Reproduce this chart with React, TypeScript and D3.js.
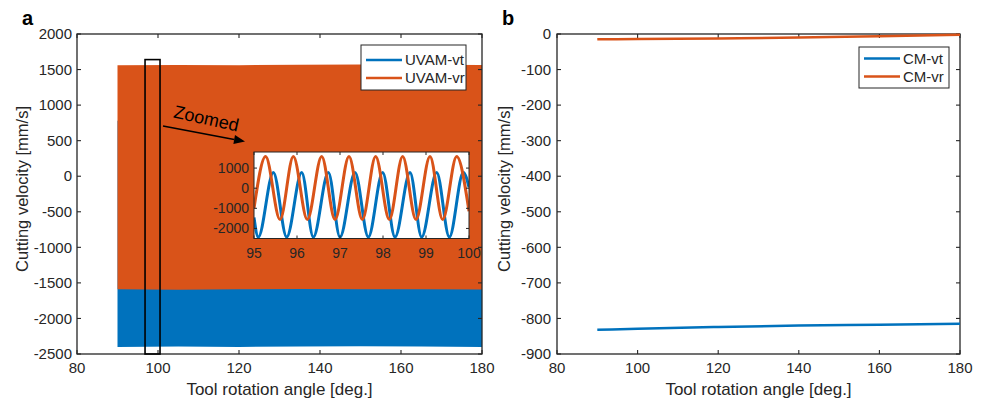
import React from "react";
import * as d3 from "d3";

// ---------- data ----------
// Panel a: envelope of dense oscillation (UVAM)
const mainAngles = [90, 105, 120, 135, 150, 165, 180];
const uvamVrUpper = [1560, 1565, 1562, 1566, 1570, 1566, 1565];
const uvamVrLower = [-1590, -1595, -1590, -1586, -1590, -1590, -1592];
const uvamVtUpper = [780, 782, 780, 784, 782, 780, 780];
const uvamVtLower = [-2400, -2396, -2400, -2394, -2392, -2396, -2400];

// Zoom rectangle (angle range, velocity range)
const zoomRectAngles = [96.8, 100.5];
const zoomRectValues = [1640, -2500];

// Inset: extrema (95 to 100 deg)
const insetVrAngles = [95, 95.27, 95.605, 95.915, 96.24, 96.574, 96.884, 97.209, 97.52, 97.829, 98.147, 98.457, 98.767, 99.093, 99.388, 99.713, 100];
const insetVrValues = [-1000, 1580, -1560, 1580, -1560, 1580, -1560, 1580, -1560, 1580, -1560, 1580, -1560, 1580, -1560, 1580, -1150];
const insetVtAngles = [95, 95.1, 95.45, 95.76, 96.109, 96.38, 96.729, 97.0, 97.349, 97.659, 97.992, 98.279, 98.628, 98.899, 99.248, 99.543, 99.868, 100];
const insetVtValues = [-1450, -2430, 780, -2430, 780, -2430, 780, -2430, 780, -2430, 780, -2430, 780, -2430, 780, -2430, 780, 50];

// Panel b: conventional machining
const cmAngles = [90, 100, 120, 140, 160, 180];
const cmVt = [-832, -829, -824, -820, -817.5, -815];
const cmVr = [-15, -14, -12.5, -10, -6, -2];

// Ticks
const xTicks = [80, 100, 120, 140, 160, 180];
const yTicksA = [2000, 1500, 1000, 500, 0, -500, -1000, -1500, -2000, -2500];
const yTicksB = [0, -100, -200, -300, -400, -500, -600, -700, -800, -900];
const insetXTicks = [95, 96, 97, 98, 99, 100];
const insetYTicks = [1000, 0, -1000, -2000];

const legendA = ["UVAM-vt", "UVAM-vr"];
const legendB = ["CM-vt", "CM-vr"];

const BLUE = "#0072BD";
const ORANGE = "#D95319";
const AX = "#262626";
const FONT = "'Liberation Sans', Arial, sans-serif";

type AxesProps = {
  x: d3.ScaleLinear<number, number>;
  y: d3.ScaleLinear<number, number>;
  yTicks: number[];
  xTickVals: number[];
  tickFont: number;
  tickLen: number;
  xLabelDy: number;
  yLabelDx: number;
};

function Axes({ x, y, yTicks, xTickVals, tickFont, tickLen, xLabelDy, yLabelDx }: AxesProps) {
  const [x0, x1] = x.range();
  const [y0, y1] = y.range(); // y0 bottom, y1 top
  return (
    <g>
      <rect x={x0} y={y1} width={x1 - x0} height={y0 - y1} fill="none" stroke={AX} strokeWidth={1.3} />
      {xTickVals.map((t) => (
        <g key={"x" + t}>
          <line x1={x(t)} x2={x(t)} y1={y0} y2={y0 - tickLen} stroke={AX} strokeWidth={1.1} />
          <line x1={x(t)} x2={x(t)} y1={y1} y2={y1 + tickLen} stroke={AX} strokeWidth={1.1} />
          <text x={x(t)} y={y0 + xLabelDy} fontSize={tickFont} textAnchor="middle" fill={AX} fontFamily={FONT}>
            {t}
          </text>
        </g>
      ))}
      {yTicks.map((t) => (
        <g key={"y" + t}>
          <line x1={x0} x2={x0 + tickLen} y1={y(t)} y2={y(t)} stroke={AX} strokeWidth={1.1} />
          <line x1={x1} x2={x1 - tickLen} y1={y(t)} y2={y(t)} stroke={AX} strokeWidth={1.1} />
          <text x={x0 - yLabelDx} y={y(t)} dy="0.35em" fontSize={tickFont} textAnchor="end" fill={AX} fontFamily={FONT}>
            {t}
          </text>
        </g>
      ))}
    </g>
  );
}

function Legend({ x, y, w, h, labels, rowY }: { x: number; y: number; w: number; h: number; labels: string[]; rowY: number[] }) {
  const colors = [BLUE, ORANGE];
  return (
    <g>
      <rect x={x} y={y} width={w} height={h} fill="white" stroke={AX} strokeWidth={1} />
      {labels.map((l, i) => (
        <g key={l}>
          <line x1={x + 5} x2={x + 41} y1={rowY[i]} y2={rowY[i]} stroke={colors[i]} strokeWidth={2.5} />
          <text x={x + 44} y={rowY[i]} dy="0.36em" fontSize={15} fill={AX} fontFamily={FONT}>
            {l}
          </text>
        </g>
      ))}
    </g>
  );
}

export default function App() {
  // Panel a scales
  const xA = d3.scaleLinear().domain([80, 180]).range([77, 482]);
  const yA = d3.scaleLinear().domain([-2500, 2000]).range([354, 34]);
  // Panel b scales
  const xB = d3.scaleLinear().domain([80, 180]).range([557, 960]);
  const yB = d3.scaleLinear().domain([-900, 0]).range([354, 34]);
  // Inset scales
  const xI = d3.scaleLinear().domain([95, 100]).range([254, 469]);
  const yI = d3.scaleLinear().domain([-2500, 1800]).range([238.5, 152]);

  const bandA = (upper: number[], lower: number[]) =>
    d3
      .area<number>()
      .x((_, i) => xA(mainAngles[i]))
      .y0((_, i) => yA(lower[i]))
      .y1((_, i) => yA(upper[i]))(mainAngles) as string;

  const lineI = (angles: number[], vals: number[]) =>
    d3
      .line<number>()
      .x((_, i) => xI(angles[i]))
      .y((_, i) => yI(vals[i]))
      .curve(d3.curveMonotoneX)(angles) as string;

  const lineB = (vals: number[]) =>
    d3
      .line<number>()
      .x((_, i) => xB(cmAngles[i]))
      .y((_, i) => yB(vals[i]))
      .curve(d3.curveMonotoneX)(cmAngles) as string;

  const ax0 = 163, ay0 = 126, ax1 = 245, ay1 = 141.5;
  const ang = Math.atan2(ay1 - ay0, ax1 - ax0);
  const hl = 11, hw = 4.5;
  const bx = ax1 - hl * Math.cos(ang), by = ay1 - hl * Math.sin(ang);
  const head = `M${ax1},${ay1} L${bx - hw * Math.sin(ang)},${by + hw * Math.cos(ang)} L${bx + hw * Math.sin(ang)},${by - hw * Math.cos(ang)} Z`;

  return (
    <svg width={983} height={404} style={{ position: "absolute", left: 0, top: 0, background: "white" }} fontFamily={FONT}>
      <defs>
        <clipPath id="insetClip">
          <rect x={254} y={152} width={215} height={86.5} />
        </clipPath>
      </defs>
      {/* Panel a */}
      <path d={bandA(uvamVtUpper, uvamVtLower)} fill={BLUE} />
      <path d={bandA(uvamVrUpper, uvamVrLower)} fill={ORANGE} />
      <Axes x={xA} y={yA} yTicks={yTicksA} xTickVals={xTicks} tickFont={15} tickLen={4} xLabelDy={19} yLabelDx={5} />
      <rect
        x={xA(zoomRectAngles[0])}
        y={yA(zoomRectValues[0])}
        width={xA(zoomRectAngles[1]) - xA(zoomRectAngles[0])}
        height={yA(zoomRectValues[1]) - yA(zoomRectValues[0])}
        fill="none"
        stroke="black"
        strokeWidth={1.6}
      />
      <text x={205} y={124.5} fontSize={18} textAnchor="middle" fill="black" transform="rotate(12.5 205 124.5)">
        Zoomed
      </text>
      <line x1={ax0} y1={ay0} x2={bx} y2={by} stroke="black" strokeWidth={1.4} />
      <path d={head} fill="black" />
      {/* Inset */}
      <rect x={254} y={152} width={215} height={86.5} fill="white" />
      <g clipPath="url(#insetClip)">
        <path d={lineI(insetVtAngles, insetVtValues)} fill="none" stroke={BLUE} strokeWidth={3} />
        <path d={lineI(insetVrAngles, insetVrValues)} fill="none" stroke={ORANGE} strokeWidth={3} />
      </g>
      <rect x={254} y={152} width={215} height={86.5} fill="none" stroke={AX} strokeWidth={1} />
      {insetXTicks.map((t) => (
        <g key={"ix" + t}>
          <line x1={xI(t)} x2={xI(t)} y1={238.5} y2={235.5} stroke={AX} strokeWidth={1} />
          <line x1={xI(t)} x2={xI(t)} y1={152} y2={155} stroke={AX} strokeWidth={1} />
          <text x={xI(t)} y={258} fontSize={14} textAnchor="middle" fill={AX}>
            {t}
          </text>
        </g>
      ))}
      {insetYTicks.map((t) => (
        <g key={"iy" + t}>
          <line x1={254} x2={257} y1={yI(t)} y2={yI(t)} stroke={AX} strokeWidth={1} />
          <line x1={469} x2={466} y1={yI(t)} y2={yI(t)} stroke={AX} strokeWidth={1} />
          <text x={249} y={yI(t)} dy="0.36em" fontSize={14} textAnchor="end" fill={AX}>
            {t}
          </text>
        </g>
      ))}
      <Legend x={361} y={45} w={105} h={45} labels={legendA} rowY={[60, 78]} />
      <text x={279.5} y={395} fontSize={17} textAnchor="middle" fill={AX}>
        Tool rotation angle [deg.]
      </text>
      <text transform="translate(28,189) rotate(-90)" fontSize={16.5} textAnchor="middle" fill={AX}>
        Cutting velocity [mm/s]
      </text>
      <text x={22} y={25} fontSize={20} fontWeight="bold" fill="black">
        a
      </text>

      {/* Panel b */}
      <Axes x={xB} y={yB} yTicks={yTicksB} xTickVals={xTicks} tickFont={15} tickLen={4} xLabelDy={19} yLabelDx={6} />
      <path d={lineB(cmVt)} fill="none" stroke={BLUE} strokeWidth={2.5} />
      <path d={lineB(cmVr)} fill="none" stroke={ORANGE} strokeWidth={2.5} />
      <Legend x={859} y={47} w={90} h={41} labels={legendB} rowY={[58.5, 76.5]} />
      <text x={758.5} y={395} fontSize={17} textAnchor="middle" fill={AX}>
        Tool rotation angle [deg.]
      </text>
      <text transform="translate(510,189) rotate(-90)" fontSize={16.5} textAnchor="middle" fill={AX}>
        Cutting velocity [mm/s]
      </text>
      <text x={502} y={25} fontSize={20} fontWeight="bold" fill="black">
        b
      </text>
    </svg>
  );
}
